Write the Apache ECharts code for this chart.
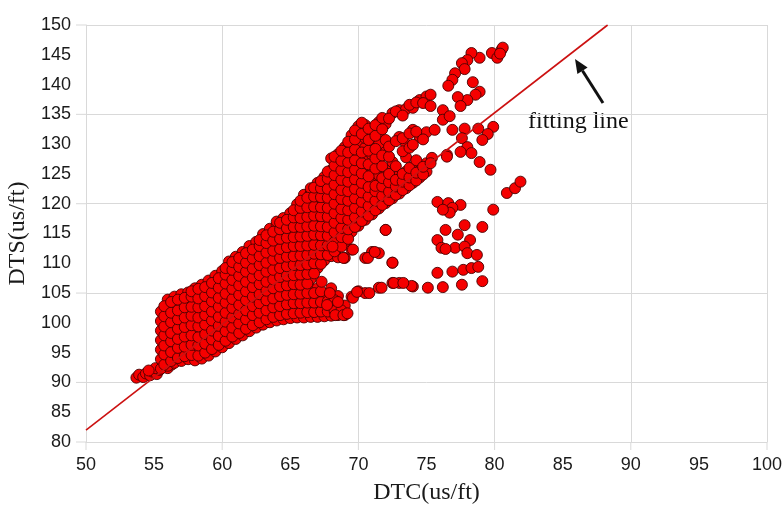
<!DOCTYPE html>
<html>
<head>
<meta charset="utf-8">
<script src="https://cdn.jsdelivr.net/npm/echarts@6/dist/echarts.min.js"></script>
<style>
html,body{margin:0;padding:0;background:#fff;}
#chart{width:784px;height:506px;}
</style>
</head>
<body>
<div id="chart"></div>
<script>
// ---- axis ticks / gridlines ----
const xTickLabels = [50, 55, 60, 65, 70, 75, 80, 85, 90, 95, 100];
const xGridValues = [50, 60, 70, 80, 90, 100];
const yTickLabels = [80, 85, 90, 95, 100, 105, 110, 115, 120, 125, 130, 135, 140, 145, 150];
const yGridValues = [80, 90, 105, 120, 135, 150];

// ---- fitting line (DTC, DTS) ----
const fitDTC = [50, 88.3];
const fitDTS = [82, 150];

const tailPts = [
  [53.7,90.8],[53.9,91.3],[54.2,90.9],[54.4,91.5],[54.7,91.2],[54.9,91.8],[55.2,91.4],
  [55.4,92.1],[55.1,92.4],[54.6,92.0],[55.7,92.6],[56.0,92.4],[56.3,93.0]
];

// dense band: [DTC, [DTS values...]]
const blobCols = [
  [55.5,[92.3,93.9,95.5,97.1,98.7,100.3,101.9]],
  [56.0,[92.8,94.4,96.0,97.6,99.2,100.8,102.4,103.9]],
  [56.5,[93.3,94.9,96.5,98.1,99.7,101.3,102.9,104.4]],
  [57.0,[93.6,95.2,96.8,98.4,100.0,101.6,103.2,104.8]],
  [57.5,[93.9,95.5,97.1,98.7,100.3,101.9,103.5,105.1]],
  [58.0,[93.7,95.3,96.9,98.5,100.1,101.7,103.3,104.9,105.8]],
  [58.5,[94.0,95.6,97.2,98.8,100.4,102.0,103.6,105.2,106.4]],
  [59.0,[94.5,96.1,97.7,99.3,100.9,102.5,104.1,105.7,107.1]],
  [59.5,[95.2,96.8,98.4,100.0,101.6,103.2,104.8,106.4,107.9]],
  [60.0,[95.9,97.5,99.1,100.7,102.3,103.9,105.5,107.1,108.7]],
  [60.5,[96.6,98.2,99.8,101.4,103.0,104.6,106.2,107.8,109.4,110.3]],
  [61.0,[97.3,98.9,100.5,102.1,103.7,105.3,106.9,108.5,110.1,111.1]],
  [61.5,[97.9,99.5,101.1,102.7,104.3,105.9,107.5,109.1,110.7,111.9]],
  [62.0,[98.6,100.2,101.8,103.4,105.0,106.6,108.2,109.8,111.4,112.9]],
  [62.5,[99.2,100.8,102.4,104.0,105.6,107.2,108.8,110.4,112.0,113.6]],
  [63.0,[99.7,101.3,102.9,104.5,106.1,107.7,109.3,110.9,112.5,114.1,114.9]],
  [63.5,[100.1,101.7,103.3,104.9,106.5,108.1,109.7,111.3,112.9,114.5,115.8]],
  [64.0,[100.4,102.0,103.6,105.2,106.8,108.4,110.0,111.6,113.2,114.8,116.4,117.0]],
  [64.5,[100.6,102.2,103.8,105.4,107.0,108.6,110.2,111.8,113.4,115.0,116.6,117.6]],
  [65.0,[100.8,102.4,104.0,105.6,107.2,108.8,110.4,112.0,113.6,115.2,116.8,118.4]],
  [65.5,[100.9,102.5,104.1,105.7,107.3,108.9,110.5,112.1,113.7,115.3,116.9,118.5,119.9]],
  [66.0,[100.9,102.5,104.1,105.7,107.3,108.9,110.5,112.1,113.7,115.3,116.9,118.5,120.1,121.5]],
  [66.5,[101.0,102.6,104.2,105.8,107.4,109.0,110.6,112.2,113.8,115.4,117.0,118.6,120.2,121.8,122.6]],
  [67.0,[101.0,102.6,104.2,105.8,109.2,110.8,112.4,114.0,115.6,117.2,118.8,120.4,122.0,123.5]],
  [67.5,[101.1,102.7,104.3,110.5,112.1,113.7,115.3,116.9,118.5,120.1,121.7,123.3,124.5]],
  [68.0,[101.2,102.8,104.4,105.8,111.2,112.8,114.4,116.0,117.6,119.2,120.8,122.4,124.0,125.6,127.6]],
  [68.5,[101.3,102.9,104.5,111.0,112.6,114.2,115.8,117.4,119.0,120.6,122.2,123.8,125.4,127.0,128.3]],
  [69.0,[101.3,102.9,110.9,113.3,114.9,116.5,118.1,119.7,121.3,122.9,124.5,126.1,127.7,129.5]],
  [69.5,[104.4,112.3,115.3,116.9,118.5,120.1,121.7,123.3,124.9,126.5,128.3,131.5]],
  [70.0,[105.3,116.3,117.9,119.5,121.1,122.7,124.3,126.0,128.0,129.8,133.0]],
  [70.5,[105.0,110.9,117.3,118.9,120.5,122.1,125.8,127.4,129.4,131.0,133.2]],
  [71.0,[111.9,118.2,119.8,121.4,123.8,125.0,126.2,128.2,130.4,132.0]],
  [71.5,[105.9,111.7,119.2,120.8,122.0,124.8,127.0,129.9,131.9,133.7]],
  [72.0,[115.6,120.1,121.6,123.2,125.7,128.7,130.7,133.4]],
  [72.5,[106.7,110.1,120.9,122.4,124.2,127.0,135.2]],
  [73.0,[106.7,121.7,123.0,124.8,131.2,135.7]],
  [73.5,[122.6,124.0,125.4,127.8,130.0,135.9]],
  [74.0,[106.1,123.5,124.7,126.2,132.4,136.1]],
  [74.5,[124.4,125.5,131.2,137.4]],
  [75.0,[125.4,126.8,132.0,138.0]]
];

// second, interleaved set of readings inside the dense band
const blobCols2 = [
  [55.75,[93.0,94.7,96.2,97.9,99.4,101.1,102.8]],
  [56.25,[93.6,95.1,96.9,98.3,100.1,101.7,103.5]],
  [56.75,[94.1,95.8,97.3,99.0,100.6,102.1,103.9]],
  [57.25,[94.4,96.0,97.7,99.3,100.9,102.6,104.2]],
  [57.75,[94.6,96.3,97.9,99.6,101.2,102.7,104.4,105.3]],
  [58.25,[94.5,96.2,97.6,99.4,100.9,102.6,104.1,105.7]],
  [58.75,[95.0,96.5,98.1,99.7,101.3,102.8,104.5,106.0]],
  [59.25,[95.6,97.2,98.7,100.4,101.9,103.6,105.1,106.7]],
  [59.75,[96.3,97.8,99.5,101.0,102.7,104.2,105.9,107.5]],
  [60.25,[97.0,98.6,100.2,101.7,103.4,104.9,106.6,108.1,109.2]],
  [60.75,[97.7,99.2,100.9,102.5,104.0,105.7,107.2,108.9,110.2]],
  [61.25,[98.3,99.9,101.5,103.0,104.7,106.3,107.9,109.4,110.9]],
  [61.75,[99.0,100.6,102.1,103.8,105.3,106.9,108.6,110.1,111.7]],
  [62.25,[99.6,101.3,102.8,104.4,106.0,107.6,109.1,110.8,112.3]],
  [62.75,[100.1,101.7,103.3,104.8,106.5,108.0,109.7,111.2,112.9,113.9]],
  [63.25,[100.6,102.1,103.8,105.4,106.9,108.6,110.1,111.8,113.4,114.7]],
  [63.75,[101.0,102.6,104.1,105.8,107.3,108.9,110.6,112.1,113.8,115.3]],
  [64.25,[101.3,102.8,104.5,106.1,107.7,109.2,110.9,112.4,114.1,115.7,116.8]],
  [64.75,[101.5,103.1,104.7,106.3,107.9,109.5,111.1,112.7,114.3,115.9,117.3]],
  [65.25,[101.6,103.3,104.8,106.5,108.0,109.7,111.2,112.9,114.4,116.1,117.7,118.9]],
  [65.75,[101.7,103.3,104.9,106.4,108.1,109.7,111.3,112.9,114.5,116.1,117.6,119.3,120.5]],
  [66.25,[101.8,103.4,105.0,106.6,108.2,109.8,111.4,113.0,114.6,116.2,117.8,119.4,121.0]],
  [66.75,[101.8,103.4,105.0,108.3,110.0,111.6,113.1,114.8,116.3,118.0,119.5,121.2,122.7]],
  [67.25,[101.9,103.5,105.3,109.9,111.5,113.0,114.7,116.2,117.9,119.4,121.1,122.6,123.8]],
  [67.75,[101.9,103.6,111.4,113.0,114.6,116.1,117.8,119.3,121.0,122.5,124.2,125.4]],
  [68.25,[102.0,103.8,112.0,113.6,115.2,116.8,118.4,120.0,121.6,123.2,124.8,126.4,127.9]],
  [68.75,[102.1,112.8,114.4,115.9,117.6,119.1,120.8,122.3,124.0,125.6,127.2,128.9]],
  [69.25,[114.1,115.7,117.3,118.9,120.5,122.1,123.7,125.3,126.9,128.6,130.4]],
  [69.75,[116.1,117.7,119.3,120.9,122.5,124.1,125.7,127.3,129.1,130.8,132.3]],
  [70.25,[117.1,118.7,120.3,121.9,123.5,125.1,126.8,128.6,131.7,133.6]],
  [70.75,[118.0,119.6,121.2,122.8,124.6,126.6,128.9,130.7,132.6]],
  [71.25,[118.9,120.5,122.1,123.0,125.9,127.6,129.2,131.4,133.2]],
  [71.75,[119.8,121.3,122.9,124.3,126.3,128.1,132.5,134.4]],
  [72.25,[120.6,122.0,123.6,125.0,127.9,129.6,134.3]],
  [72.75,[121.5,122.9,124.0,126.3,130.5,135.5]],
  [73.25,[122.3,123.7,125.0,128.8,131.0,134.8]],
  [73.75,[123.1,124.4,126.0,129.4,131.8,136.6]],
  [74.25,[123.9,125.2,127.3,132.1,137.0]],
  [74.75,[124.9,126.2,130.8,136.9]]
];

const upperArmPts = [
  [75.3,138.3],[75.3,136.4],[76.2,135.7],[76.2,134.1],[76.7,134.7],[76.9,132.4],[77.8,132.6],
  [78.8,132.6],[79.9,132.9],[79.5,131.7],[79.1,130.7],[77.6,131.0],[78.0,129.5],[78.3,128.5],
  [77.5,128.7],[76.5,128.2],[75.4,127.7],[75.6,132.4],[74.0,129.9],[78.9,127.0],[79.7,125.7],
  [76.5,127.9],[75.3,126.8]
];

const topClusterPts = [
  [80.5,145.8],[79.8,145.3],[80.2,144.5],[78.9,144.5],[78.3,145.3],[78.0,144.1],[77.6,143.6],
  [77.8,142.6],[77.1,141.9],[76.9,140.8],[76.6,139.8],[78.4,140.4],[78.9,138.8],[78.6,138.3],
  [78.0,137.4],[77.3,137.9],[77.5,136.4],[80.6,146.2],[80.4,145.2]
];

const rightClusterPts = [
  [80.9,121.8],[81.5,122.6],[81.9,123.7],[79.9,119.0],[75.8,120.3],[76.6,120.1],[77.5,119.8],
  [76.9,119.3],[76.7,118.5],[76.2,119.0],[77.8,116.4],[79.1,116.1],[76.4,115.6],[77.3,114.8],
  [78.2,113.9],[75.8,113.9],[76.1,112.6],[77.1,112.6],[76.4,112.4],[77.8,112.8],[78.0,111.7],
  [78.7,111.4],[75.8,108.4],[76.9,108.6],[77.7,108.9],[78.3,109.2],[78.8,109.4],[79.1,107.0],
  [77.6,106.4],[76.2,106.0],[75.1,105.9],[73.9,106.2]
];

const lowerWingPts = [
  [67.3,106.9],[67.9,105.0],[68.5,103.5],[69.6,104.2],[69.9,105.2],[70.8,105.0],[71.7,105.9],
  [72.6,106.7],[73.3,106.7],[67.7,103.0],[68.3,101.3],[68.9,101.3],[69.2,101.6],[68.9,110.9],
  [69.6,112.3],[70.7,110.9],[71.2,111.9],[72.5,110.1],[72.0,115.6],[68.1,112.8]
];

// build the point table
const points = [];
tailPts.forEach(p => points.push(p));
[blobCols, blobCols2].forEach(cols => cols.forEach(c => c[1].forEach(v => points.push([c[0], v]))));
[upperArmPts, topClusterPts, rightClusterPts, lowerWingPts].forEach(a => a.forEach(p => points.push(p)));

// gridline colours only at the grid values (labels every 5)
const gridColor = '#d9d9d9';
const clear = 'rgba(0,0,0,0)';
const xLineColors = xTickLabels.map(v => xGridValues.indexOf(v) >= 0 ? gridColor : clear);
const yLineColors = yTickLabels.map(v => yGridValues.indexOf(v) >= 0 ? gridColor : clear);

const chart = echarts.init(document.getElementById('chart'), null, {renderer: 'canvas'});
const labelStyle = {color: '#1a1a1a', fontFamily: 'Liberation Sans, Arial, sans-serif', fontSize: 18};

chart.setOption({
  animation: false,
  backgroundColor: '#ffffff',
  grid: {left: 86, right: 17, top: 25, bottom: 64, containLabel: false, outerBoundsMode: 'none'},
  xAxis: {
    type: 'value', min: 50, max: 100, interval: 5,
    name: 'DTC(us/ft)', nameLocation: 'middle', nameGap: 39,
    nameTextStyle: {fontFamily: 'Liberation Serif, Times New Roman, serif', fontSize: 24, color: '#1a1a1a'},
    axisLine: {show: true, lineStyle: {color: gridColor, width: 1}},
    axisTick: {show: false},
    axisLabel: Object.assign({margin: 14}, labelStyle),
    splitLine: {show: true, lineStyle: {color: xLineColors, width: 1}}
  },
  yAxis: {
    type: 'value', min: 80, max: 150, interval: 5,
    name: 'DTS(us/ft)', nameLocation: 'middle', nameGap: 52, nameRotate: 90,
    nameTextStyle: {fontFamily: 'Liberation Serif, Times New Roman, serif', fontSize: 24, color: '#1a1a1a'},
    axisLine: {show: true, lineStyle: {color: gridColor, width: 1}},
    axisTick: {show: false},
    axisLabel: Object.assign({margin: 15}, labelStyle),
    splitLine: {show: true, lineStyle: {color: yLineColors, width: 1}}
  },
  series: [
    {
      type: 'scatter',
      data: points,
      symbol: 'circle',
      symbolSize: 11,
      itemStyle: {color: '#f50000', borderColor: '#4a0000', borderWidth: 0.9, opacity: 1},
      z: 2
    },
    {
      type: 'line',
      data: fitDTC.map((x, i) => [x, fitDTS[i]]),
      showSymbol: false,
      symbol: 'none',
      lineStyle: {color: '#cc1111', width: 1.6},
      z: 3,
      silent: true
    }
  ],
  graphic: [
    {type: 'text', left: 528, top: 110, style: {text: 'fitting line', font: '24px "Liberation Serif", serif', fill: '#111'}},
    {type: 'line', shape: {x1: 603, y1: 103, x2: 582.5, y2: 70.8}, style: {stroke: '#111', lineWidth: 3}},
    {type: 'polygon', shape: {points: [[575, 59], [587.6, 67.6], [577.4, 74.0]]}, style: {fill: '#111'}}
  ]
});

// short grey tick stubs outside the plot at each gridline, placed through the axis scales
const stubs = [];
yGridValues.forEach(v => {
  const p = chart.convertToPixel({xAxisIndex: 0, yAxisIndex: 0}, [50, v]);
  stubs.push({type: 'line', silent: true, shape: {x1: p[0] - 10, y1: p[1], x2: p[0], y2: p[1]}, style: {stroke: gridColor, lineWidth: 1}});
});
xGridValues.forEach(v => {
  const p = chart.convertToPixel({xAxisIndex: 0, yAxisIndex: 0}, [v, 80]);
  stubs.push({type: 'line', silent: true, shape: {x1: p[0], y1: p[1], x2: p[0], y2: p[1] + 8}, style: {stroke: gridColor, lineWidth: 1}});
});
chart.setOption({graphic: stubs.map((s, i) => Object.assign({id: 'stub' + i}, s))});
</script>
</body>
</html>
